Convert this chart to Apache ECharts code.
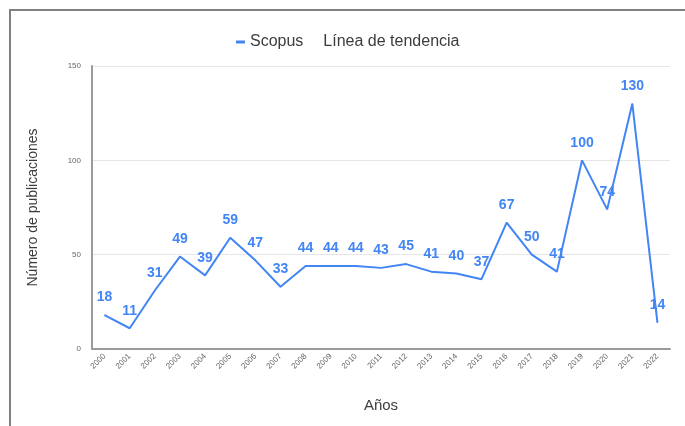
<!DOCTYPE html>
<html>
<head>
<meta charset="utf-8">
<script src="https://cdn.jsdelivr.net/npm/echarts@6/dist/echarts.min.js"></script>
<style>
  html, body { margin: 0; padding: 0; background: #fff; }
  #chart { position: absolute; left: 0; top: 0; width: 685px; height: 426px; }
  #frame { position: absolute; left: 9px; top: 9px; width: 700px; height: 450px;
           border-left: 2px solid #808080; border-top: 2px solid #808080; pointer-events: none; z-index: 10; }
</style>
</head>
<body>
<div id="chart"></div>
<div id="frame"></div>
<script>
const years = ['2000','2001','2002','2003','2004','2005','2006','2007','2008','2009','2010','2011',
               '2012','2013','2014','2015','2016','2017','2018','2019','2020','2021','2022'];
const scopus = [18, 11, 31, 49, 39, 59, 47, 33, 44, 44, 44, 43, 45, 41, 40, 37, 67, 50, 41, 100, 74, 130, 14];
const trend = [];
const yTicks = { min: 0, max: 150, interval: 50 };

const chart = echarts.init(document.getElementById('chart'), null, { renderer: 'canvas' });
const font = 'Arial, "Liberation Sans", sans-serif';
chart.setOption({
  backgroundColor: '#ffffff',
  animation: false,
  textStyle: { fontFamily: font },
  legend: {
    left: 231, top: 29,
    itemWidth: 9, itemHeight: 3, itemGap: 6,
    textStyle: { fontSize: 16, color: '#3c3c3c', fontFamily: font },
    data: [
      { name: 'Scopus', icon: 'rect' },
      { name: 'Línea de tendencia', icon: 'none' }
    ]
  },
  grid: { left: 92, right: 15, top: 66, bottom: 77 },
  xAxis: {
    type: 'category',
    data: years,
    boundaryGap: true,
    name: 'Años',
    nameLocation: 'middle',
    nameGap: 49,
    nameTextStyle: { fontSize: 15, color: '#3c3c3c', fontFamily: font },
    axisLine: { lineStyle: { color: '#9a9a9a', width: 2 } },
    axisTick: { show: false },
    axisLabel: { rotate: 45, fontSize: 8, color: '#666', margin: 6, interval: 0, fontFamily: font }
  },
  yAxis: {
    type: 'value',
    min: yTicks.min, max: yTicks.max, interval: yTicks.interval,
    name: 'Número de publicaciones',
    nameLocation: 'middle',
    nameRotate: 90,
    nameGap: 52,
    nameTextStyle: { fontSize: 14, color: '#3c3c3c', fontFamily: font },
    axisLine: { show: true, lineStyle: { color: '#9a9a9a', width: 2 } },
    axisTick: { show: false },
    axisLabel: { fontSize: 8, color: '#666', margin: 11, fontFamily: font },
    splitLine: { lineStyle: { color: '#e6e6e6', width: 1 } }
  },
  series: [
    {
      name: 'Scopus',
      type: 'line',
      data: scopus,
      symbol: 'circle',
      symbolSize: 1,
      itemStyle: { color: '#4285f4' },
      lineStyle: { color: '#4285f4', width: 2 },
      label: {
        show: true, position: 'top', distance: 10,
        fontSize: 14, fontWeight: 'bold', color: '#4285f4', fontFamily: font
      }
    },
    {
      name: 'Línea de tendencia',
      type: 'line',
      data: trend,
      symbol: 'none',
      lineStyle: { width: 0 }
    }
  ]
});
</script>
</body>
</html>
